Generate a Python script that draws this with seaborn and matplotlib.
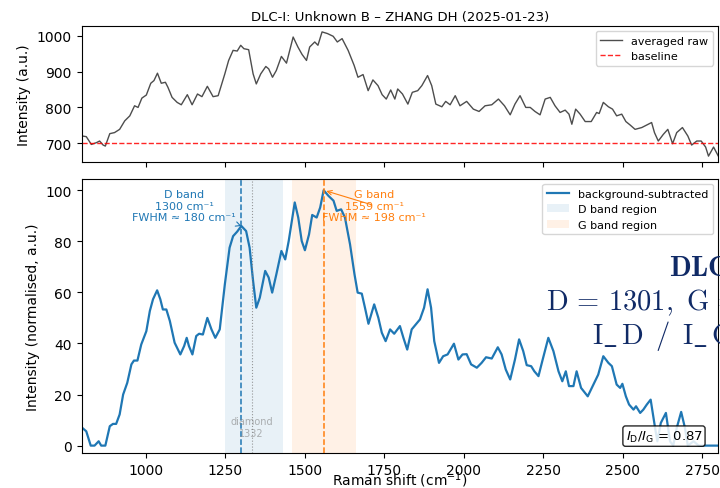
import matplotlib
matplotlib.use("Agg")
import matplotlib.pyplot as plt
import seaborn as sns
import pandas as pd

# ---------------- data ----------------
raw_shift = [799, 812, 828, 844, 854, 865, 872, 886, 901, 917, 933, 949, 964, 975, 987,
             1001, 1015, 1025, 1036, 1048, 1061, 1069, 1082, 1098, 1111, 1130, 1145, 1162,
             1176, 1193, 1211, 1227, 1248, 1260, 1274, 1287, 1298, 1308, 1323, 1337, 1347,
             1361, 1377, 1386, 1398, 1410, 1426, 1442, 1463, 1478, 1491, 1505, 1515, 1531,
             1541, 1554, 1571, 1589, 1602, 1617, 1636, 1655, 1667, 1683, 1699, 1714, 1730,
             1743, 1756, 1770, 1783, 1792, 1807, 1824, 1838, 1855, 1868, 1886, 1899, 1912,
             1931, 1943, 1957, 1973, 1988, 2009, 2030, 2048, 2067, 2088, 2109, 2128, 2146,
             2161, 2177, 2195, 2209, 2224, 2240, 2256, 2272, 2287, 2303, 2319, 2331, 2340,
             2352, 2366, 2382, 2401, 2418, 2426, 2439, 2455, 2468, 2481, 2497, 2510, 2523,
             2539, 2560, 2576, 2591, 2600, 2612, 2628, 2642, 2657, 2670, 2688, 2705, 2717,
             2733, 2747, 2761, 2770, 2786, 2801]
raw_intensity = [720.5, 718.7, 697.0, 702.0, 706.5, 695.3, 692.5, 727.0, 730.0, 739.0, 762.6,
                 776.6, 804.6, 800.0, 826.0, 834.5, 867.3, 874.7, 895.3, 867.3, 870.0, 856.0,
                 828.0, 814.0, 807.4, 835.5, 807.4, 837.4, 830.0, 858.8, 830.0, 832.7, 893.4,
                 930.8, 958.8, 957.0, 972.9, 963.5, 960.7, 893.4, 865.4, 893.4, 914.0, 907.4,
                 884.0, 902.8, 942.0, 923.3, 996.0, 968.2, 947.6, 930.8, 968.2, 982.2, 973.0,
                 1010.2, 1005.6, 998.0, 982.2, 991.5, 958.8, 916.8, 884.0, 891.5, 846.7, 876.6,
                 860.7, 835.5, 823.3, 848.6, 823.3, 851.4, 837.4, 809.3, 842.0, 846.7, 860.7,
                 888.8, 860.7, 809.3, 801.8, 816.8, 807.4, 832.7, 804.6, 816.8, 795.3, 788.8,
                 804.6, 807.4, 823.3, 804.6, 779.4, 809.3, 832.7, 800.0, 800.0, 788.8, 779.4,
                 823.3, 828.0, 804.6, 786.0, 792.5, 781.3, 753.2, 795.3, 781.3, 760.7, 760.7,
                 786.0, 783.0, 814.0, 801.8, 795.3, 776.6, 781.3, 760.7, 751.4, 739.0, 744.0,
                 751.4, 758.0, 730.0, 706.5, 725.2, 739.0, 699.0, 730.0, 744.0, 720.5, 695.3,
                 706.5, 706.5, 689.7, 664.5, 689.7, 664.5]

sub_shift = [799, 812, 826, 838, 851, 859, 872, 886, 896, 906, 917, 928, 941, 954, 962, 973,
             985, 1001, 1012, 1022, 1035, 1045, 1053, 1064, 1075, 1090, 1108, 1120, 1128, 1135,
             1146, 1158, 1167, 1179, 1193, 1206, 1218, 1232, 1248, 1263, 1274, 1287, 1300,
             1315, 1326, 1337, 1347, 1358, 1375, 1386, 1397, 1410, 1426, 1438, 1449, 1468,
             1479, 1490, 1500, 1513, 1523, 1537, 1548, 1559, 1574, 1590, 1600, 1614, 1626,
             1642, 1656, 1666, 1679, 1689, 1700, 1718, 1731, 1742, 1754, 1768, 1781, 1799,
             1810, 1822, 1836, 1862, 1875, 1886, 1897, 1907, 1922, 1935, 1949, 1969, 1983,
             1996, 2009, 2023, 2041, 2056, 2070, 2088, 2107, 2119, 2132, 2146, 2161, 2174,
             2187, 2198, 2212, 2222, 2235, 2247, 2266, 2282, 2298, 2310, 2321, 2331, 2345,
             2355, 2369, 2390, 2408, 2423, 2439, 2455, 2466, 2481, 2492, 2499, 2510, 2520,
             2534, 2542, 2555, 2565, 2576, 2588, 2602, 2609, 2620, 2636, 2649, 2659, 2670,
             2684, 2696, 2705, 2723, 2739, 2801]
sub_intensity = [7.0, 5.6, 0.0, 0.0, 1.7, 0.0, 0.0, 7.6, 8.5, 8.5, 12.2, 20.0, 24.6, 31.8,
                 33.3, 33.3, 39.6, 44.8, 52.7, 57.3, 60.8, 57.3, 53.3, 53.3, 48.8, 40.3, 35.7,
                 39.0, 42.2, 39.0, 35.7, 42.9, 43.8, 43.5, 50.0, 45.5, 42.2, 45.5, 63.1, 77.5,
                 82.0, 83.8, 86.0, 84.0, 77.5, 64.4, 54.0, 57.9, 68.4, 65.8, 59.9, 67.0, 76.2,
                 72.9, 80.1, 95.2, 89.3, 80.1, 76.5, 82.7, 90.3, 89.3, 93.2, 100.0, 97.8, 95.9,
                 91.9, 92.5, 89.3, 78.8, 67.1, 59.9, 59.5, 54.0, 47.7, 55.3, 50.1, 44.2, 40.9,
                 45.5, 43.8, 46.8, 42.2, 37.6, 45.5, 49.4, 54.0, 61.2, 54.0, 40.9, 32.4, 35.0,
                 35.7, 39.9, 33.7, 35.7, 35.8, 31.8, 30.5, 32.4, 34.6, 34.1, 38.5, 35.7, 29.8,
                 25.9, 33.7, 41.6, 37.0, 31.5, 31.1, 29.1, 27.2, 33.1, 42.2, 37.0, 29.1, 25.2,
                 29.1, 23.3, 23.3, 29.1, 22.6, 19.3, 23.9, 27.8, 35.0, 32.4, 31.1, 23.9, 22.6,
                 24.2, 19.3, 16.1, 14.1, 15.4, 12.8, 14.1, 16.1, 18.0, 6.9, 1.7, 8.9, 12.8, 1.7,
                 0.0, 6.9, 13.2, 6.9, 0.0, 1.7, 0.0, 0.0]

baseline_level = 700
d_peak, d_height, d_fwhm = 1300, 86.0, 180
g_peak, g_height, g_fwhm = 1559, 100.0, 198
diamond_pos = 1332
d_region = (1250, 1430)
g_region = (1460, 1660)
ratio_dg = 0.87
fit_d, fit_g = 1301, 1559
title = "DLC-I: Unknown B \u2013 ZHANG DH (2025-01-23)"

raw_df = pd.DataFrame({"shift": raw_shift, "intensity": raw_intensity})
sub_df = pd.DataFrame({"shift": sub_shift, "intensity": sub_intensity})

# ---------------- figure ----------------
fig = plt.figure(figsize=(7.2, 4.89), dpi=100)
ax1 = fig.add_axes([0.1132, 0.666, 0.8845, 0.2794])
ax2 = fig.add_axes([0.1132, 0.071, 0.8845, 0.5615], sharex=ax1)

# top panel
sns.lineplot(data=raw_df, x="shift", y="intensity", ax=ax1, color="#4d4d4d",
             linewidth=1.0, label="averaged raw")
ax1.axhline(baseline_level, color="red", ls="--", lw=1.0, alpha=0.85, label="baseline")
ax1.set_xlim(797, 2801)
ax1.set_xlabel("")
ax1.set_ylabel("Intensity (a.u.)", fontsize=10)
ax1.set_title(title, fontsize=9.5, pad=4)
ax1.tick_params(labelbottom=False)
ax1.legend(loc="upper right", fontsize=8)

# bottom panel
ax2.axvspan(*d_region, color="C0", alpha=0.1, lw=0, label="D band region")
ax2.axvspan(*g_region, color="C1", alpha=0.1, lw=0, label="G band region")
sns.lineplot(data=sub_df, x="shift", y="intensity", ax=ax2, color="C0",
             linewidth=1.6, label="background-subtracted")
ax2.axvline(d_peak, color="C0", ls="--", lw=1.1)
ax2.axvline(g_peak, color="C1", ls="--", lw=1.1)
ax2.axvline(diamond_pos, color="gray", ls=":", lw=0.8, alpha=0.8)
ax2.text(diamond_pos, 7.3, f"diamond\n{diamond_pos}", ha="center", va="center",
         fontsize=7, color="gray", alpha=0.6)

ax2.annotate(f"D band\n{d_peak} cm\u207b\u00b9\nFWHM \u2248 {d_fwhm} cm\u207b\u00b9",
             xy=(d_peak, d_height), xytext=(1120, 94), ha="center", va="center",
             fontsize=8, color="C0",
             arrowprops=dict(arrowstyle="->", color="C0", lw=0.8))
ax2.annotate(f"G band\n{g_peak} cm\u207b\u00b9\nFWHM \u2248 {g_fwhm} cm\u207b\u00b9",
             xy=(g_peak, g_height), xytext=(1718, 94), ha="center", va="center",
             fontsize=8, color="C1",
             arrowprops=dict(arrowstyle="->", color="C1", lw=0.8))

ax2.set_ylim(-3, 104.5)
ax2.set_xlabel("Raman shift (cm$^{-1}$)", fontsize=10)
ax2.xaxis.label.set_verticalalignment("baseline")
ax2.xaxis.set_label_coords(0.5, -0.114)
ax2.set_ylabel("Intensity (normalised, a.u.)", fontsize=10)
h, l = ax2.get_legend_handles_labels()
order = [l.index("background-subtracted"), l.index("D band region"), l.index("G band region")]
ax2.legend([h[i] for i in order], [l[i] for i in order], loc="upper right", fontsize=8)

ax2.text(0.975, 0.035, r"$I_\mathrm{D}/I_\mathrm{G}$" + f" = {ratio_dg:.2f}",
         transform=ax2.transAxes, ha="right", va="bottom", fontsize=9.5,
         bbox=dict(boxstyle="round,pad=0.2", fc="white", ec="black", alpha=0.85))

# large summary text (overflows the right edge as in the reference)
navy = "#102a66"
fig.text(669 / 720, 1 - 276 / 489, r"$\mathbf{DLC{-}I}$", fontsize=20.5, color=navy,
         ha="left", va="baseline", math_fontfamily="cm")
fig.text(546 / 720, 1 - 310 / 489,
         r"$\mathrm{D}\,=\,\mathrm{%d},\ \mathrm{G}\,=\,\mathrm{%d}$" % (fit_d, fit_g),
         fontsize=20.5, color=navy, ha="left", va="baseline", math_fontfamily="cm")
fig.text(592 / 720, 1 - 344 / 489,
         r"$\mathrm{I\_\,D\ \,/\ \,I\_\,G}\,=\,\mathrm{%.2f}$" % ratio_dg,
         fontsize=20.5, color=navy, ha="left", va="baseline", math_fontfamily="cm")

fig.savefig("out.png", dpi=100)
